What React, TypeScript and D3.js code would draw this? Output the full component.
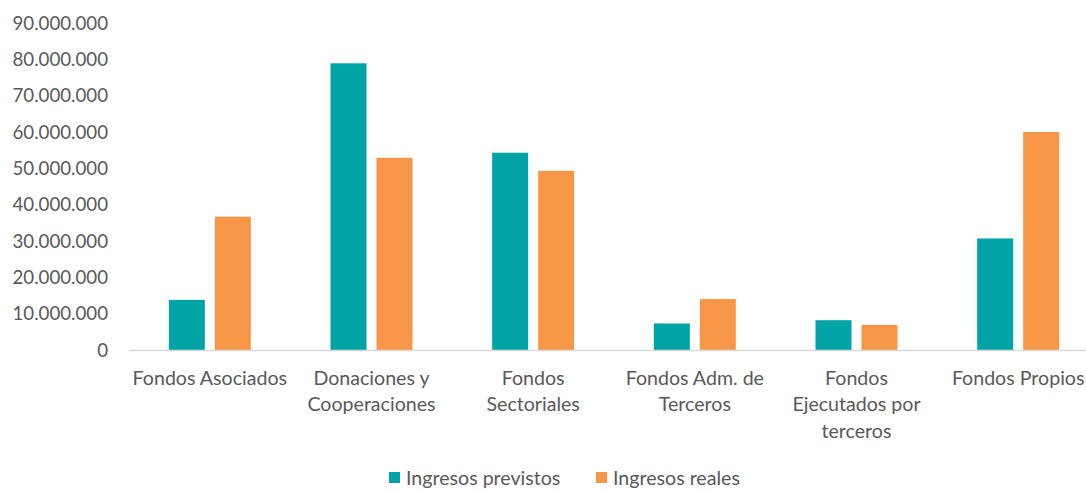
import React from "react";
import * as d3 from "d3";

const categories: string[][] = [
  ["Fondos Asociados"],
  ["Donaciones y", "Cooperaciones"],
  ["Fondos", "Sectoriales"],
  ["Fondos Adm. de", "Terceros"],
  ["Fondos", "Ejecutados por", "terceros"],
  ["Fondos Propios"],
];
const previstos = [13.8e6, 78.9e6, 54.3e6, 7.3e6, 8.2e6, 30.7e6];
const reales = [36.7e6, 52.9e6, 49.3e6, 14.0e6, 6.9e6, 60.0e6];
const yTicks = [0, 10e6, 20e6, 30e6, 40e6, 50e6, 60e6, 70e6, 80e6, 90e6];
const seriesNames = ["Ingresos previstos", "Ingresos reales"];
const colors = ["#00A4A6", "#F79646"];

const W = 1086;
const H = 490;
const left = 129;
const right = 1099;
const top = 23;
const bottom = 350;
const font = "Lato, 'Open Sans', sans-serif";
const textColor = "#595959";

export default function App() {
  const x = d3.scaleBand<number>().domain(d3.range(categories.length)).range([left, right]);
  const y = d3.scaleLinear().domain([0, 90e6]).range([bottom, top]);
  const barW = 36;
  const gap = 10;
  const fmt = (v: number) => d3.format(",")(v).replace(/,/g, ".");
  const series = [previstos, reales];

  return (
    <svg width={W} height={H} style={{ position: "absolute", left: 0, top: 0 }}>
      <rect width={W} height={H} fill="#fff" />
      {yTicks.map((t) => (
        <text key={t} x={108} y={y(t)} dy="0.35em" textAnchor="end" fontFamily={font} fontSize={18.7} fill={textColor}>
          {fmt(t)}
        </text>
      ))}
      {series.map((vals, si) =>
        vals.map((v, i) => {
          const c = x(i)! + x.bandwidth() / 2;
          const x0 = si === 0 ? c - gap / 2 - barW : c + gap / 2;
          return <rect key={si + "-" + i} x={x0} y={y(v)} width={barW} height={y(0) - y(v)} fill={colors[si]} />;
        })
      )}
      <line x1={left} x2={W} y1={bottom + 0.5} y2={bottom + 0.5} stroke="#D9D9D9" strokeWidth={1.5} />
      {categories.map((lines, i) => (
        <text key={i} textAnchor="middle" fontFamily={font} fontSize={19.6} fill={textColor}>
          {lines.map((l, j) => (
            <tspan key={j} x={x(i)! + x.bandwidth() / 2} y={385 + j * 26.3}>
              {l}
            </tspan>
          ))}
        </text>
      ))}
      {seriesNames.map((n, i) => {
        const lx = [389, 596][i];
        return (
          <g key={n}>
            <rect x={lx} y={472} width={11} height={11} fill={colors[i]} />
            <text x={lx + 17} y={478} dy="0.35em" fontFamily={font} fontSize={19.6} fill={textColor}>
              {n}
            </text>
          </g>
        );
      })}
    </svg>
  );
}
